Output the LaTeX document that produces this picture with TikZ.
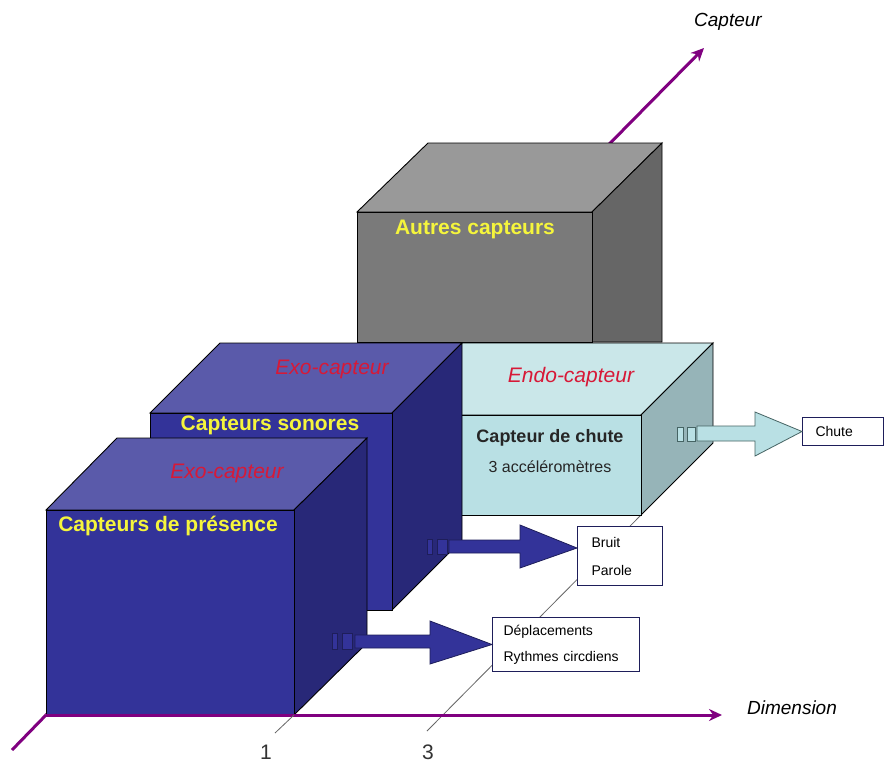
\documentclass[tikz,border=0pt]{standalone}
\usepackage{fontspec}
\setmainfont{Liberation Sans}
\usetikzlibrary{arrows.meta,calc}
\definecolor{bfront}{RGB}{51,51,153}
\definecolor{btop}{RGB}{90,90,170}
\definecolor{bside}{RGB}{40,40,120}
\definecolor{gfront}{RGB}{122,122,122}
\definecolor{gtop}{RGB}{153,153,153}
\definecolor{gside}{RGB}{102,102,102}
\definecolor{efront}{RGB}{185,224,228}
\definecolor{etop}{RGB}{202,231,233}
\definecolor{eside}{RGB}{150,180,184}
\definecolor{axiscol}{RGB}{128,0,128}
\definecolor{lblred}{RGB}{215,25,55}
\definecolor{lblyel}{RGB}{245,245,60}
\definecolor{boxline}{RGB}{30,30,90}
\definecolor{earrowline}{RGB}{70,100,100}
\begin{document}
\begin{tikzpicture}[x=1pt,y=-1pt,
  face/.style={draw=black,line width=0.9pt,line join=miter},
  axisline/.style={draw=axiscol,line width=3pt},
  bigyel/.style={text=lblyel,font=\fontsize{21}{25}\selectfont\bfseries,inner sep=0pt},
  exo/.style={text=lblred,font=\fontsize{21}{25}\selectfont\itshape,inner sep=0pt},
  axlabel/.style={text=black,font=\fontsize{19}{22}\selectfont\itshape,inner sep=0pt},
  ticklbl/.style={text=black!80,font=\fontsize{21}{24}\selectfont,inner sep=0pt},
  tickline/.style={draw=black!60,line width=0.8pt},
  outbox/.style={draw=boxline,fill=white,line width=1pt,align=left,anchor=north west,
     font=\fontsize{14}{26}\selectfont,inner ysep=0pt},
  barrow/.style={fill=bfront,draw=boxline,line width=0.8pt,line join=miter},
  earrow/.style={fill=efront,draw=earrowline,line width=0.8pt,line join=miter}
]
\useasboundingbox (0,0) rectangle (885,763);
\fill[white] (0,0) rectangle (885,763);

% origin and axes behind cubes
\coordinate (O) at (46,715);
\coordinate (captip) at (704,48);
\coordinate (dimtip) at (722,715);
\coordinate (front) at (12,750);
\draw[axisline,-{Stealth[length=13pt,width=12pt]}] (O) -- (captip);
\draw[axisline] (O) -- (front);

% tick guide lines
\coordinate (t1a) at (275,733);
\coordinate (t1b) at (294,715);
\coordinate (t3a) at (427,731);
\coordinate (t3b) at (641,515);
\draw[tickline] (t3a) -- (t3b);

% grey cube (Autres capteurs)
\path[face,fill=gtop]   (357,212) -- (428,143) -- (662,143) -- (592,212) -- cycle;
\path[face,fill=gside]  (592,212) -- (662,143) -- (662,342) -- (592,342) -- cycle;
\path[face,fill=gfront] (357,212) rectangle (592,342);

% endo cube
\path[face,fill=etop]   (390,415) -- (462,343) -- (713,343) -- (641,415) -- cycle;
\path[face,fill=eside]  (641,415) -- (713,343) -- (713,443) -- (641,515) -- cycle;
\path[face,fill=efront] (390,415) rectangle (641,515);

% sonores cube
\path[face,fill=btop]   (150,413) -- (220,343) -- (462,343) -- (392,413) -- cycle;
\path[face,fill=bside]  (392,413) -- (462,343) -- (462,540) -- (392,610) -- cycle;
\path[face,fill=bfront] (150,413) rectangle (392,610);

% presence cube
\path[face,fill=btop]   (46,510) -- (117,438) -- (367,438) -- (294,510) -- cycle;
\path[face,fill=bside]  (294,510) -- (367,438) -- (367,643) -- (294,715) -- cycle;
\path[face,fill=bfront] (46,510) rectangle (294,715);

% labels on cubes
\node[bigyel] (autres) at (475,229) {Autres capteurs};
\node[bigyel] (sonores) at (270,425) {Capteurs sonores};
\node[bigyel] (presence) at (168,526) {Capteurs de présence};
\node[exo] (exo1) at (332,369) {Exo-capteur};
\node[exo] (exo2) at (227,473) {Exo-capteur};
\node[exo] (endo) at (571,377) {Endo-capteur};
\node[text=black!85,font=\fontsize{18}{20}\selectfont\bfseries,inner sep=0pt] (chutetitle) at (550,438) {Capteur de chute};
\node[text=black!85,font=\fontsize{16}{18}\selectfont,inner sep=0pt] (accel) at (550,467) {3 accéléromètres};

% output boxes
\node[outbox,text width=125pt,inner xsep=11pt,minimum height=54pt] (depl) at (492,617) {Déplacements\\Rythmes circdiens};
\node[outbox,text width=57pt,inner xsep=14pt,minimum height=59pt,font=\fontsize{14}{28}\selectfont] (bruit) at (577,526) {Bruit\\Parole};
\node[outbox,text width=55pt,inner xsep=13pt,minimum height=28pt,draw=boxline] (chute) at (802,417) {Chute};

% block arrows
\coordinate (ptip) at (depl.west);
\path[barrow] (332,633) rectangle (337,649);
\path[barrow] (342,633) rectangle (352,649);
\path[barrow] (355,635) -- (430,635) -- (430,621) -- (ptip) -- (430,664) -- (430,648) -- (355,648) -- cycle;

\coordinate (stip) at ([yshift=8pt]bruit.west);
\path[barrow] (427,539) rectangle (432,554);
\path[barrow] (437,539) rectangle (447,554);
\path[barrow] (449,540) -- (520,540) -- (520,525) -- (stip) -- (520,568) -- (520,553) -- (449,553) -- cycle;

\coordinate (etip) at (chute.west);
\path[earrow] (677,427) rectangle (683,441);
\path[earrow] (687,427) rectangle (695,441);
\path[earrow] (697,426) -- (755,426) -- (755,412) -- (etip) -- (755,456) -- (755,441) -- (697,441) -- cycle;

% front axis and ticks
\draw[axisline,-{Stealth[length=13pt,width=12pt]}] (O) -- (dimtip);
\draw[tickline] (t1a) -- (t1b);
\node[ticklbl] (one) at (266,752) {1};
\node[ticklbl] (three) at (428,752) {3};
\node[axlabel] (caplbl) at (728,22) {Capteur};
\node[axlabel] (dimlbl) at (792,708) {Dimension};
\end{tikzpicture}
\end{document}
